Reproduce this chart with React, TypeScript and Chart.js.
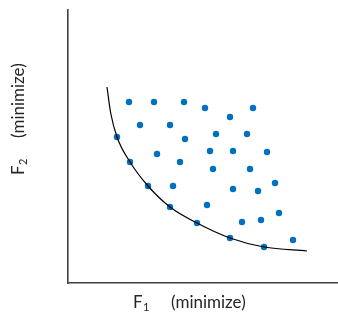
import React, { useEffect, useRef } from "react";
import { Chart, registerables } from "chart.js";

Chart.register(...registerables);

const solutionX = [61, 86, 116, 137, 162, 185, 72, 102, 49, 117, 148, 179, 89, 142, 165, 199, 62, 112, 145, 182, 80, 105, 165, 190, 207, 102, 139, 129, 174, 193, 211, 162, 196, 225];
const solutionY = [181, 181, 181, 175, 166, 175, 158, 158, 146, 144, 149, 149, 129, 132, 132, 131, 121, 121, 114, 114, 97, 97, 94, 92, 100, 76, 78, 60, 61, 63, 70, 45, 36, 43];

const frontX = [39, 42.7, 49, 62, 80, 102, 129, 162, 196, 239];
const frontY = [196, 170, 146, 121, 97, 76, 60, 45, 36, 32];

const varName = "F";
const xSub = "1";
const ySub = "2";
const goal = "(minimize)";

export default function App() {
  const ref = useRef<HTMLCanvasElement | null>(null);
  useEffect(() => {
    document.body.style.margin = "0";
    const canvas = ref.current!;
    const big = "17px Lato, 'Open Sans', sans-serif";
    const small = "11px Lato, 'Open Sans', sans-serif";
    const titles = {
      id: "titles",
      afterDraw(chart: any) {
        const ctx = chart.ctx;
        ctx.save();
        ctx.fillStyle = "#262626";
        ctx.textBaseline = "alphabetic";
        ctx.textAlign = "left";
        // x title
        ctx.font = big;
        ctx.fillText(varName, 133, 308);
        ctx.fillText(goal, 171, 308);
        ctx.font = small;
        ctx.fillText(xSub, 143, 311);
        // y title
        ctx.translate(24, 0);
        ctx.rotate(-Math.PI / 2);
        ctx.font = big;
        ctx.fillText(varName, -175, 0);
        ctx.fillText(goal, -138, 0);
        ctx.font = small;
        ctx.fillText(ySub, -165, 3);
        ctx.restore();
      },
    };
    const chart = new Chart(canvas, {
      type: "scatter",
      data: {
        datasets: [
          {
            type: "line",
            label: "front",
            data: frontX.map((x, i) => ({ x, y: frontY[i] })),
            borderColor: "#000000",
            borderWidth: 1.2,
            pointRadius: 0,
            cubicInterpolationMode: "monotone",
            fill: false,
          } as any,
          {
            label: "solutions",
            data: solutionX.map((x, i) => ({ x, y: solutionY[i] })),
            backgroundColor: "#0070C0",
            borderColor: "#0070C0",
            pointRadius: 3.2,
            borderWidth: 0,
          },
        ],
      },
      options: {
        animation: false,
        responsive: false,
        layout: { padding: { left: 68, top: 10, right: 0, bottom: 36 } },
        plugins: { legend: { display: false }, tooltip: { enabled: false } },
        scales: {
          x: {
            type: "linear",
            min: 0,
            max: 270,
            ticks: { display: false },
            grid: { display: false, drawTicks: false },
            border: { display: true, color: "#404040", width: 1.6 },
          },
          y: {
            type: "linear",
            min: 0,
            max: 273,
            ticks: { display: false },
            grid: { display: false, drawTicks: false },
            border: { display: true, color: "#404040", width: 1.6 },
          },
        },
      },
      plugins: [titles],
    });
    return () => chart.destroy();
  }, []);
  return (
    <div style={{ position: "fixed", left: 0, top: 0, width: 338, height: 319, overflow: "hidden" }}>
      <canvas
        ref={ref}
        width={342}
        height={319}
        style={{ display: "block", width: 342, height: 319 }}
      />
    </div>
  );
}
